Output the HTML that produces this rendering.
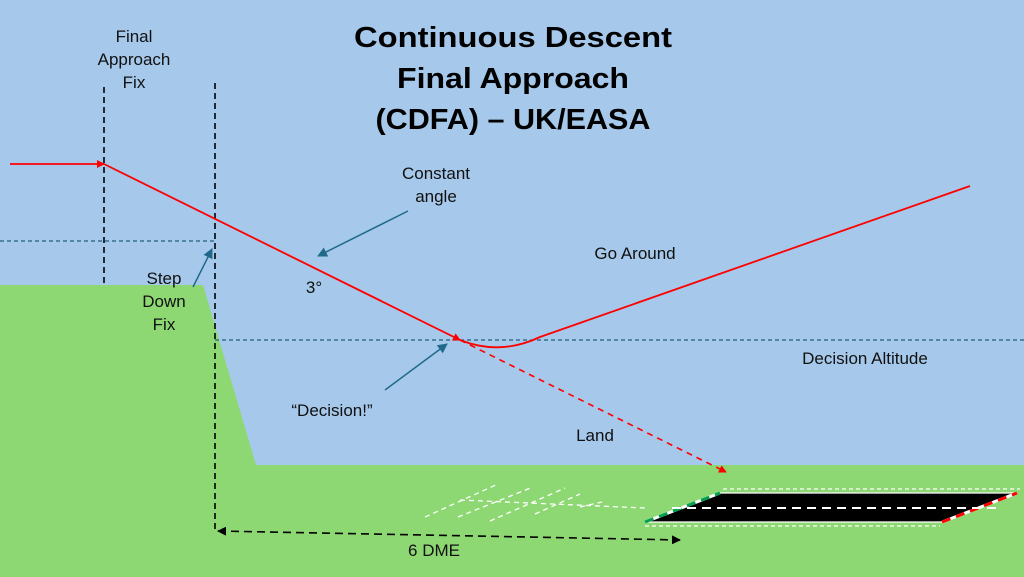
<!DOCTYPE html>
<html><head><meta charset="utf-8"><style>
html,body{margin:0;padding:0;background:#a6c8ea;}
svg{display:block;font-family:"Liberation Sans",sans-serif;}
</style></head><body>
<svg width="1024" height="577" viewBox="0 0 1024 577" xmlns="http://www.w3.org/2000/svg">
<defs>
<marker id="ar" markerWidth="8" markerHeight="8" refX="7" refY="4" orient="auto" markerUnits="userSpaceOnUse"><path d="M0,0 L8,4 L0,8 z" fill="#ff0000"/></marker>
<marker id="ab" markerWidth="10" markerHeight="10" refX="9" refY="5" orient="auto" markerUnits="userSpaceOnUse"><path d="M0,0 L10,5 L0,10 z" fill="#1f6a8a"/></marker>
<marker id="ak" markerWidth="9" markerHeight="9" refX="8" refY="4.5" orient="auto-start-reverse" markerUnits="userSpaceOnUse"><path d="M0,0 L9,4.5 L0,9 z" fill="#000"/></marker>
</defs>
<rect width="1024" height="577" fill="#a6c8ea"/>
<polygon points="0,285 203,285 256,465 1024,465 1024,577 0,577" fill="#8ed874"/>
<line x1="0" y1="241" x2="215" y2="241" stroke="#1f5f7f" stroke-width="1.3" stroke-dasharray="4,3"/>
<line x1="215" y1="340" x2="1024" y2="340" stroke="#1f5f7f" stroke-width="1.3" stroke-dasharray="4,3"/>
<line x1="104" y1="87" x2="104" y2="285" stroke="#000" stroke-width="1.6" stroke-dasharray="6,4"/>
<line x1="215" y1="83" x2="215" y2="530" stroke="#000" stroke-width="1.6" stroke-dasharray="6,4"/>
<line x1="10" y1="164" x2="104" y2="164" stroke="#ff0000" stroke-width="1.8" marker-end="url(#ar)"/>
<line x1="104" y1="164" x2="460" y2="340" stroke="#ff0000" stroke-width="1.8" marker-end="url(#ar)"/>
<line x1="460" y1="340" x2="726" y2="472" stroke="#ff0000" stroke-width="1.6" stroke-dasharray="6,5" marker-end="url(#ar)"/>
<path d="M460,340 Q500,356 540,337 L970,186" fill="none" stroke="#ff0000" stroke-width="1.8"/>
<line x1="408" y1="211" x2="318" y2="256" stroke="#1f6a8a" stroke-width="1.5" marker-end="url(#ab)"/>
<line x1="193" y1="287" x2="212" y2="249" stroke="#1f6a8a" stroke-width="1.5" marker-end="url(#ab)"/>
<line x1="385" y1="390" x2="447" y2="344" stroke="#1f6a8a" stroke-width="1.5" marker-end="url(#ab)"/>
<line x1="218" y1="531" x2="680" y2="540" stroke="#000" stroke-width="1.6" stroke-dasharray="8,5" marker-start="url(#ak)" marker-end="url(#ak)"/>
<g stroke="#fff" stroke-width="1.3" stroke-dasharray="5,4" fill="none">
<line x1="425" y1="517" x2="498" y2="484"/>
<line x1="458" y1="517" x2="533" y2="487"/>
<line x1="490" y1="521" x2="565" y2="488"/>
<line x1="535" y1="514" x2="580" y2="494"/>
<line x1="460" y1="500" x2="645" y2="508"/>
<line x1="580" y1="507" x2="602" y2="502"/>
</g>
<polygon points="645,522 720,493 1017,493 942,522" fill="#000"/>
<line x1="720" y1="493" x2="1017" y2="493" stroke="#fff" stroke-width="1.2"/>
<line x1="645" y1="522" x2="942" y2="522" stroke="#fff" stroke-width="1.2"/>
<line x1="645" y1="522" x2="720" y2="493" stroke="#fff" stroke-width="3"/>
<line x1="942" y1="522" x2="1017" y2="493" stroke="#fff" stroke-width="3"/>
<line x1="645" y1="522" x2="720" y2="493" stroke="#00a050" stroke-width="3" stroke-dasharray="9,6"/>
<line x1="942" y1="522" x2="1017" y2="493" stroke="#ff0000" stroke-width="3" stroke-dasharray="9,6"/>
<line x1="672" y1="508" x2="1000" y2="508" stroke="#fff" stroke-width="2" stroke-dasharray="9,6"/>
<line x1="723" y1="489" x2="1020" y2="489" stroke="#fff" stroke-width="1.2" stroke-dasharray="4,3"/>
<line x1="645" y1="526" x2="940" y2="526" stroke="#fff" stroke-width="1.2" stroke-dasharray="4,3"/>
<g font-weight="bold" font-size="29" text-anchor="middle" fill="#000">
<text x="513" y="47" textLength="318" lengthAdjust="spacingAndGlyphs">Continuous Descent</text>
<text x="513" y="88" textLength="232" lengthAdjust="spacingAndGlyphs">Final Approach</text>
<text x="513" y="129" textLength="275" lengthAdjust="spacingAndGlyphs">(CDFA) – UK/EASA</text>
</g>
<g font-size="17" fill="#111" text-anchor="middle">
<text x="134" y="42">Final</text>
<text x="134" y="65">Approach</text>
<text x="134" y="88">Fix</text>
<text x="164" y="284">Step</text>
<text x="164" y="307">Down</text>
<text x="164" y="330">Fix</text>
<text x="436" y="179">Constant</text>
<text x="436" y="202">angle</text>
<text x="314" y="293">3°</text>
<text x="635" y="259">Go Around</text>
<text x="865" y="364">Decision Altitude</text>
<text x="332" y="416">“Decision!”</text>
<text x="595" y="441">Land</text>
<text x="434" y="556">6 DME</text>
</g>
</svg>
</body></html>
